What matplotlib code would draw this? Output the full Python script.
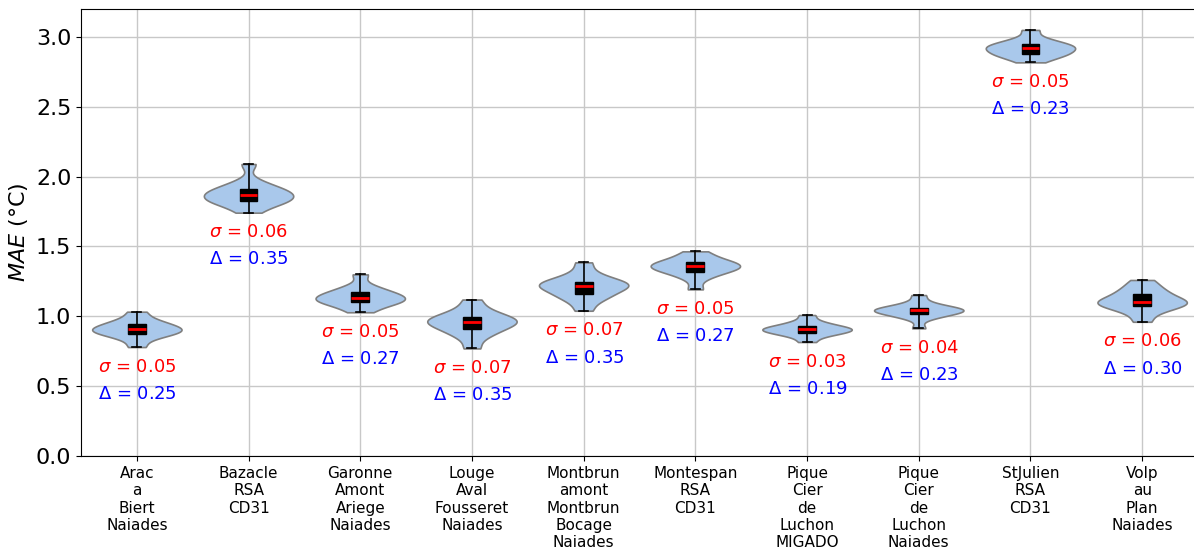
import matplotlib
matplotlib.use("Agg")
import matplotlib.pyplot as plt

# ---- data ----
stations = ["Arac_a_Biert_Naiades", "Bazacle_RSA_CD31", "Garonne_Amont_Ariege_Naiades",
            "Louge_Aval_Fousseret_Naiades", "Montbrun_amont_Montbrun_Bocage_Naiades",
            "Montespan_RSA_CD31", "Pique_Cier_de_Luchon_MIGADO", "Pique_Cier_de_Luchon_Naiades",
            "StJulien_RSA_CD31", "Volp_au_Plan_Naiades"]

# approximate quantiles of the MAE distribution for each station
mae_arac = [0.78, 0.835, 0.862, 0.876, 0.887, 0.897, 0.907, 0.917, 0.93, 0.943, 0.96, 0.985, 1.033]
mae_bazacle = [1.742, 1.79, 1.812, 1.825, 1.838, 1.852, 1.868, 1.882, 1.895, 1.909, 1.93, 1.965, 2.09]
mae_garonne = [1.029, 1.065, 1.088, 1.10, 1.112, 1.122, 1.133, 1.145, 1.158, 1.172, 1.19, 1.22, 1.30]
mae_louge = [0.77, 0.85, 0.885, 0.909, 0.93, 0.948, 0.96, 0.97, 0.983, 0.997, 1.02, 1.055, 1.12]
mae_montbrun = [1.04, 1.11, 1.14, 1.16, 1.185, 1.205, 1.219, 1.228, 1.238, 1.248, 1.27, 1.31, 1.386]
mae_montespan = [1.193, 1.27, 1.305, 1.32, 1.335, 1.348, 1.358, 1.366, 1.377, 1.39, 1.405, 1.43, 1.465]
mae_pique_migado = [0.816, 0.855, 0.872, 0.883, 0.892, 0.90, 0.907, 0.913, 0.921, 0.93, 0.945, 0.965, 1.009]
mae_pique_naiades = [0.914, 0.985, 1.005, 1.019, 1.028, 1.036, 1.043, 1.049, 1.055, 1.062, 1.075, 1.10, 1.152]
mae_stjulien = [2.818, 2.85, 2.866, 2.878, 2.892, 2.905, 2.918, 2.928, 2.938, 2.949, 2.965, 2.99, 3.05]
mae_volp = [0.961, 1.025, 1.055, 1.074, 1.087, 1.097, 1.105, 1.117, 1.14, 1.16, 1.185, 1.215, 1.26]

sigma_labels = ["0.05", "0.06", "0.05", "0.07", "0.07", "0.05", "0.03", "0.04", "0.05", "0.06"]
delta_labels = ["0.25", "0.35", "0.27", "0.35", "0.35", "0.27", "0.19", "0.23", "0.23", "0.30"]

data = [mae_arac, mae_bazacle, mae_garonne, mae_louge, mae_montbrun,
        mae_montespan, mae_pique_migado, mae_pique_naiades, mae_stjulien, mae_volp]
positions = list(range(1, len(data) + 1))

# ---- plot ----
fig = plt.figure(figsize=(11.94, 5.5), dpi=100)
ax = fig.add_axes([81 / 1194, 1 - 456 / 550, (1198 - 81) / 1194, (456 - 9) / 550])

parts = ax.violinplot(data, positions=positions, widths=0.8, bw_method=0.45,
                      showextrema=False, showmedians=False)
for body in parts["bodies"]:
    body.set_facecolor("#a9c8eb")
    body.set_edgecolor("#7f7f7f")
    body.set_linewidth(1.2)
    body.set_alpha(1)

ax.boxplot(data, positions=positions, widths=0.16, whis=(0, 100),
           patch_artist=True, showfliers=False,
           boxprops=dict(facecolor="black", edgecolor="black"),
           medianprops=dict(color="red", linewidth=2),
           whiskerprops=dict(color="black", linewidth=1.2),
           capprops=dict(color="black", linewidth=1.2))

# sigma / delta annotations under each violin
for pos, vals, s, d in zip(positions, data, sigma_labels, delta_labels):
    lo = min(vals)
    ax.text(pos - 0.35, lo - 0.14, r"$\sigma$ = " + s, color="red",
            fontsize=13, ha="left", va="center")
    ax.text(pos - 0.35, lo - 0.335, r"$\Delta$ = " + d, color="blue",
            fontsize=13, ha="left", va="center")

ax.set_xlim(0.5, 10.5)
ax.set_ylim(0, 3.2)
ax.set_yticks([0.0, 0.5, 1.0, 1.5, 2.0, 2.5, 3.0])
ax.set_xticks(positions)
ax.set_xticklabels([s.replace("_", "\n") for s in stations], fontsize=11)
ax.tick_params(axis="y", labelsize=16)
ax.set_ylabel(r"$MAE$ (°C)", fontsize=16)
ax.grid(True, color="#c8c8c8", linewidth=1)
ax.set_axisbelow(True)

fig.savefig("out.png", dpi=100)
